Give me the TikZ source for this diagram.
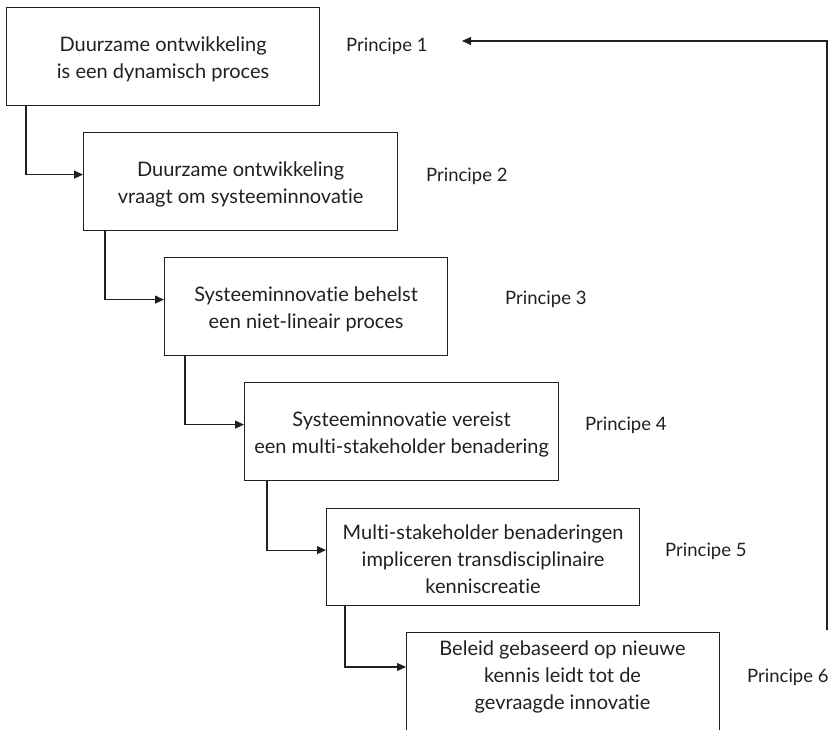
\documentclass[tikz,border=0pt]{standalone}
\usepackage{fontspec}
\setmainfont{Lato}[Ligatures={NoCommon,NoRequired,NoContextual}]
\usetikzlibrary{arrows.meta}
\definecolor{ink}{HTML}{231F20}
\begin{document}
\begin{tikzpicture}[x=1pt,y=-1pt,
  box/.style={draw=ink,line width=1.2pt,rectangle,anchor=north west,inner sep=0pt},
  txt/.style={text=ink,align=center,font=\fontsize{20}{27}\selectfont},
  lbl/.style={text=ink,anchor=west,inner sep=0pt,font=\fontsize{18.5}{27}\selectfont},
  arr/.style={draw=ink,line width=1.2pt,-{Triangle[length=9pt,width=8pt]}}]
\useasboundingbox (0,0) rectangle (832,730);
% boxes
\node[box,minimum width=313pt,minimum height=98pt] (b1) at (6,7) {};
\node[txt] (t1) at ([yshift=-3pt]b1.center) {Duurzame ontwikkeling\\is een dynamisch proces};
\node[box,minimum width=314pt,minimum height=98pt] (b2) at (83,132) {};
\node[txt] (t2) at ([yshift=-3pt]b2.center) {Duurzame ontwikkeling\\vraagt om systeeminnovatie};
\node[box,minimum width=283pt,minimum height=98pt] (b3) at (164,257) {};
\node[txt] (t3) at ([yshift=-3pt]b3.center) {Systeeminnovatie behelst\\een niet-lineair proces};
\node[box,minimum width=314pt,minimum height=98pt] (b4) at (244,382) {};
\node[txt] (t4) at ([yshift=-3pt]b4.center) {Systeeminnovatie vereist\\een multi-stakeholder benadering};
\node[box,minimum width=313pt,minimum height=97pt] (b5) at (326,508) {};
\node[txt] (t5) at ([yshift=-2pt]b5.center) {Multi-stakeholder benaderingen\\impliceren transdisciplinaire\\kenniscreatie};
\node[box,minimum width=313pt,minimum height=120pt] (b6) at (406,632) {};
\node[txt] (t6) at (562.5,677) {Beleid gebaseerd op nieuwe\\kennis leidt tot de\\gevraagde innovatie};
% labels
\node[lbl] (p1) at (346,46) {Principe 1};
\node[lbl] (p2) at (426,176) {Principe 2};
\node[lbl] (p3) at (505,299) {Principe 3};
\node[lbl] (p4) at (585,425) {Principe 4};
\node[lbl] (p5) at (665,551) {Principe 5};
\node[lbl] (p6) at (747,677) {Principe 6};
% connectors
\coordinate (c1) at (26,105);
\coordinate (c2) at (105,230);
\coordinate (c3) at (185,355);
\coordinate (c4) at (267,480);
\coordinate (c5) at (345,605);
\draw[arr] (c1) |- ([yshift=7pt]b2.west);
\draw[arr] (c2) |- ([yshift=7pt]b3.west);
\draw[arr] (c3) |- ([yshift=7pt]b4.west);
\draw[arr] (c4) |- ([yshift=7pt]b5.west);
\coordinate (e6) at (406,667);
\draw[arr] (c5) |- (e6);
\coordinate (fb) at (827,630);
\coordinate (fbend) at (462,41);
\draw[arr] (fb) |- (fbend);
\end{tikzpicture}
\end{document}
